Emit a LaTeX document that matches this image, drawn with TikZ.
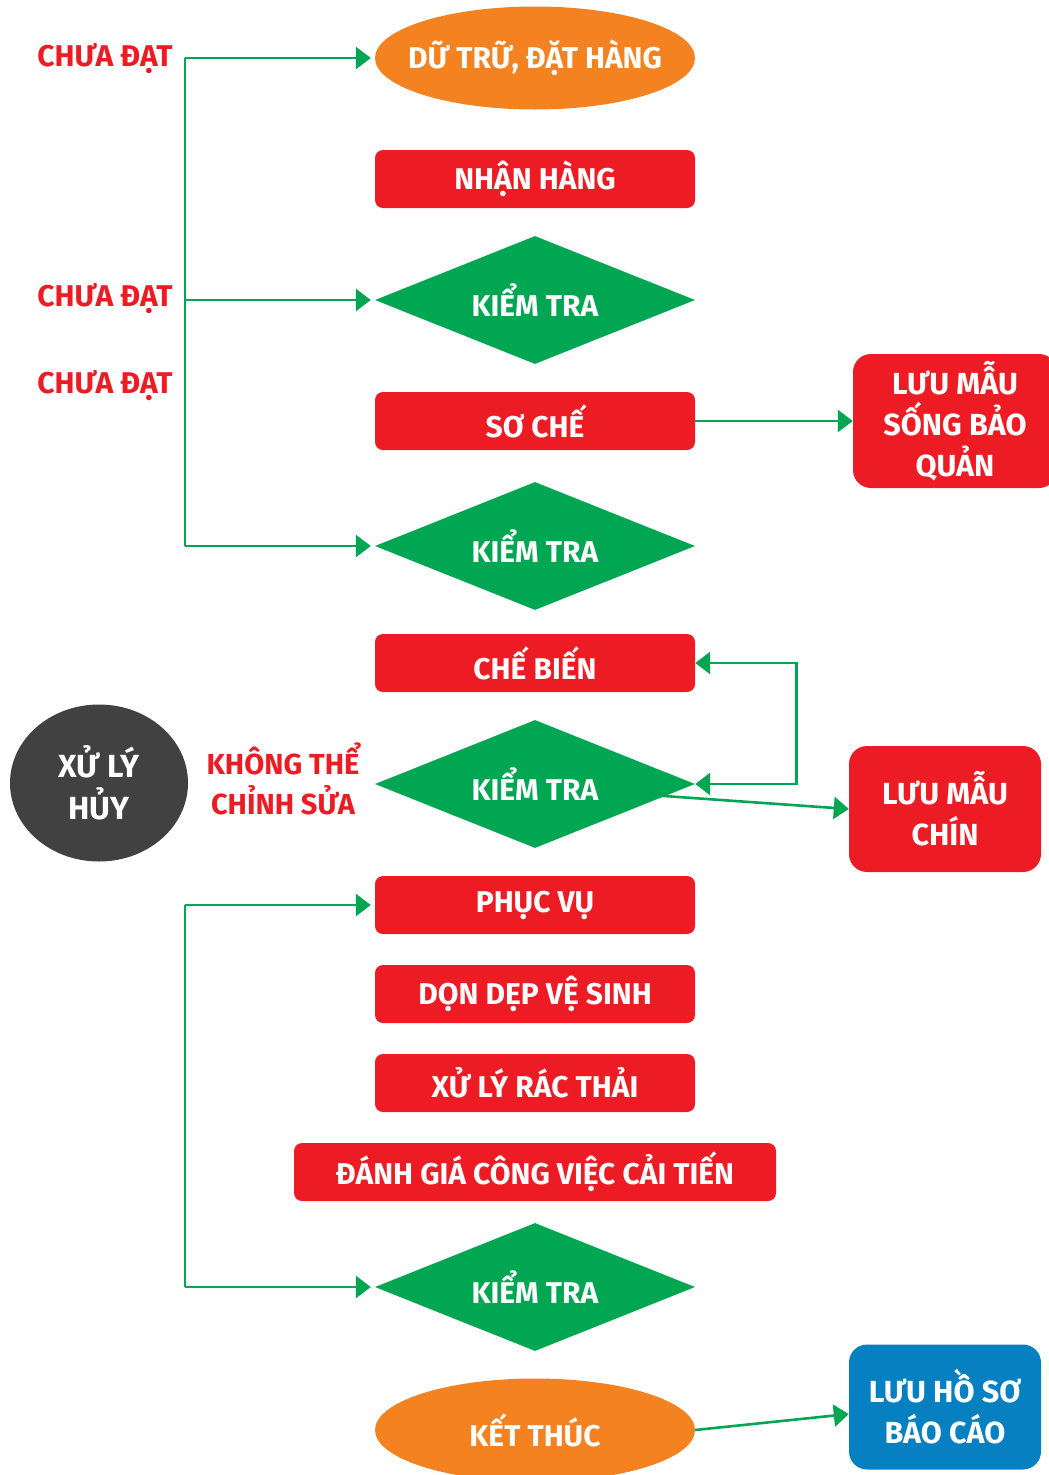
\documentclass[tikz,border=0pt]{standalone}
\usepackage{fontspec}
\usepackage{tikz}
\usetikzlibrary{shapes.geometric,arrows.meta}
\newfontfamily\flowfont{Fira Sans}
\definecolor{myorange}{RGB}{245,130,32}
\definecolor{myred}{RGB}{237,28,36}
\definecolor{mygreen}{RGB}{0,166,81}
\definecolor{myblue}{RGB}{6,128,193}
\definecolor{mygray}{RGB}{65,65,65}

\begin{document}
\begin{tikzpicture}[x=1pt,y=-1pt]
\tikzstyle{oval}=[ellipse, fill=myorange, minimum width=320, minimum height=103, inner xsep=-40pt, text=white, font=\flowfont\bfseries\fontsize{30}{41}\selectfont]
\tikzstyle{task}=[rectangle, rounded corners=8, fill=myred, minimum width=320, minimum height=58, text=white, font=\flowfont\bfseries\fontsize{30}{41}\selectfont]
\tikzstyle{check}=[diamond, aspect=2.5, fill=mygreen, minimum width=320, minimum height=128, inner sep=0pt, text=white, font=\flowfont\bfseries\fontsize{30}{41}\selectfont]
\tikzstyle{store}=[rectangle, rounded corners=18, fill=myred, minimum width=192, minimum height=126, text=white, align=center, font=\flowfont\bfseries\fontsize{30.5}{41}\selectfont]
\tikzstyle{note}=[text=myred, align=center, font=\flowfont\bfseries\fontsize{30}{41}\selectfont]
\tikzstyle{line}=[draw=mygreen, line width=2.6]
\tikzstyle{connect}=[line, -{Triangle[length=15,width=22]}]
\tikzstyle{both}=[line, {Triangle[length=15,width=22]}-{Triangle[length=15,width=22]}]
\useasboundingbox (0,0) rectangle (1049,1475);
% main column
\node[oval] (dutru) at (535,58) {DỮ TRỮ, ĐẶT HÀNG};
\node[task] (nhan) at (535,179) {NHẬN HÀNG};
\node[check] (kt1) at (535,300) {KIỂM TRA};
\node[task] (soche) at (535,421) {SƠ CHẾ};
\node[check] (kt2) at (535,546) {KIỂM TRA};
\node[task] (chebien) at (535,663) {CHẾ BIẾN};
\node[check] (kt3) at (535,784) {KIỂM TRA};
\node[task] (phucvu) at (535,905) {PHỤC VỤ};
\node[task] (donve) at (535,994) {DỌN DẸP VỆ SINH};
\node[task] (rac) at (535,1083) {XỬ LÝ RÁC THẢI};
\node[task,minimum width=482] (danhgia) at (535,1172) {ĐÁNH GIÁ CÔNG VIỆC CẢI TIẾN};
\node[check] (kt4) at (535,1287) {KIỂM TRA};
\node[oval] (ketthuc) at (535,1430) {KẾT THÚC};
% side boxes
\node[store,minimum width=204,minimum height=134] (luusong) at (955,421) {LƯU MẪU\\SỐNG BẢO\\QUẢN};
\node[store] (luuchin) at (945,809) {LƯU MẪU\\CHÍN};
\node[store,fill=myblue,minimum height=125] (luuhs) at (945,1407) {LƯU HỒ SƠ\\BÁO CÁO};
\node[ellipse,fill=mygray,minimum width=178,minimum height=157,text=white,align=center,font=\flowfont\bfseries\fontsize{32}{42}\selectfont] (huy) at (99,783) {XỬ LÝ\\HỦY};
% labels
\node[note] (cd1) at (105,59) {CHƯA ĐẠT};
\node[note] (cd2) at (105,299) {CHƯA ĐẠT};
\node[note] (cd3) at (105,385) {CHƯA ĐẠT};
\node[note,font=\flowfont\bfseries\fontsize{29}{40}\selectfont] (khong) at (283,779) {KHÔNG THỂ\\CHỈNH SỬA};
% connectors
\coordinate (ltop) at (185,58);
\coordinate (lmid) at (185,300);
\coordinate (lbot) at (185,546);
\coordinate (btop) at (185,905);
\coordinate (bbot) at (185,1287);
\coordinate (kt3in) at (650,795);
\draw[line] (ltop) -- (lbot);
\draw[connect,shorten >=4] (ltop) -- (dutru.west);
\draw[connect,shorten >=4] (lmid) -- (kt1.west);
\draw[connect,shorten >=4] (lbot) -- (kt2.west);
\draw[line] (btop) -- (bbot);
\draw[connect,shorten >=4] (btop) -- (phucvu.west);
\draw[connect,shorten >=4] (bbot) -- (kt4.west);
\draw[connect] (soche.east) -- (luusong.west);
\draw[both] (chebien.east) -- ++(101,0) |- (kt3.east);
\draw[connect] (kt3in) -- (luuchin.west);
\draw[connect] (ketthuc.east) -- ([yshift=-7pt]luuhs.west);
\end{tikzpicture}
\end{document}
